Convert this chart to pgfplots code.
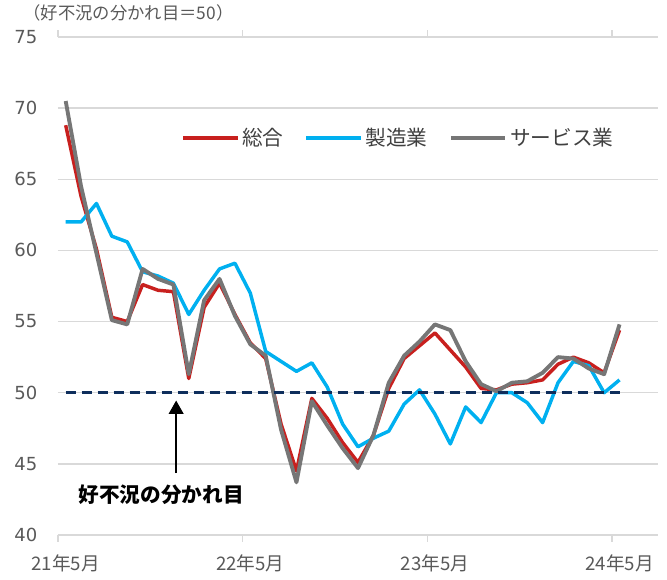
\documentclass[border=0pt]{standalone}
\usepackage{pgfplots}
\pgfplotsset{compat=1.18}
\usepackage{fontspec}
\setmainfont{Noto Sans CJK JP}
\newfontfamily\numfont{DejaVu Sans}
\usetikzlibrary{calc,arrows.meta}
\definecolor{cRed}{HTML}{C8201E}
\definecolor{cBlue}{HTML}{00B0F0}
\definecolor{cGray}{HTML}{767676}
\definecolor{cNavy}{HTML}{0E2E5C}
\definecolor{cGrid}{HTML}{D9D9D9}
\definecolor{cText}{HTML}{595959}
\definecolor{cLeg}{HTML}{404040}
\pgfplotstableread{
i sogo seizo service
0 68.8 62.0 70.5
1 63.8 62.0 64.5
2 60.1 63.3 59.8
3 55.3 61.0 55.1
4 55.0 60.6 54.8
5 57.6 58.5 58.7
6 57.2 58.2 58.0
7 57.1 57.7 57.6
8 51.0 55.5 51.3
9 56.0 57.2 56.5
10 57.7 58.7 58.0
11 55.5 59.1 55.4
12 53.5 57.0 53.4
13 52.4 52.9 52.6
14 47.8 52.2 47.4
15 44.5 51.5 43.7
16 49.6 52.1 49.4
17 48.2 50.4 47.7
18 46.5 47.8 46.1
19 45.1 46.2 44.7
20 47.0 46.8 47.0
21 50.3 47.3 50.7
22 52.4 49.2 52.6
23 53.3 50.2 53.6
24 54.2 48.5 54.8
25 53.0 46.4 54.4
26 51.8 49.0 52.2
27 50.3 47.9 50.6
28 50.2 50.0 50.1
29 50.6 50.0 50.7
30 50.7 49.3 50.8
31 50.9 47.9 51.4
32 52.0 50.7 52.5
33 52.5 52.2 52.4
34 52.1 51.9 51.7
35 51.4 50.0 51.3
36 54.4 50.9 54.8
}\datatable
\begin{document}
\begin{tikzpicture}
\begin{axis}[
  name=ax,
  scale only axis,
  width=450pt, height=373.5pt,
  xmin=-0.5, xmax=38.5,
  ymin=40, ymax=75,
  ytick={40,45,...,75},
  xtick={0,12,24,36},
  xticklabels={21年5月,22年5月,23年5月,24年5月},
  extra x ticks={-0.5,11.5,23.5,35.5},
  extra x tick labels={},
  extra x tick style={grid=none, tick align=outside, major tick length=5pt, tick style={draw=cGrid, line width=1pt}},
  axis line style={draw=none},
  major tick length=0pt,
  ymajorgrids,
  grid style={draw=cGrid, line width=1.1pt},
  /pgf/number format/assume math mode=true,
  yticklabel style={font=\numfont\fontsize{13.5}{16}\selectfont, text=cText, xshift=-12pt},
  xticklabel style={font=\fontsize{14}{16}\selectfont, text=cText, yshift=-11pt},
  clip=false,
  legend columns=3,
  legend style={at={(rel axis cs:0.205,0.797)}, anchor=west, draw=none, fill=none, inner sep=0pt,
    font=\fontsize{15.5}{18}\selectfont, text=cLeg,
    /tikz/every even column/.append style={column sep=14pt}},
  legend cell align=left,
  legend image code/.code={\draw[#1] (0pt,0pt) -- (41pt,0pt);},
]
\addplot[cRed, line width=2.6pt, line join=round] table[x=i, y=sogo] {\datatable};
\addlegendentry{総合}
\addplot[cBlue, line width=2.6pt, line join=round] table[x=i, y=seizo] {\datatable};
\addlegendentry{製造業}
\addplot[cGray, line width=2.9pt, line join=round] table[x=i, y=service] {\datatable};
\addlegendentry{サービス業}
\addplot[cNavy, line width=2.3pt, dash pattern=on 7.5pt off 4.5pt, forget plot] coordinates {(0,50) (36,50)};
\draw[-{Triangle[length=10pt,width=11pt]}, line width=1.3pt, black] (axis cs:7.18,44.35) -- (axis cs:7.18,49.45);
\node[font=\bfseries\fontsize{15.5}{18}\selectfont, text=black] at (axis cs:6.2,42.8) {好不況の分かれ目};
\node[anchor=west, inner sep=0pt, font=\fontsize{13}{15}\selectfont, text=cText] at (rel axis cs:-0.058,1.048) {（好不況の分かれ目＝50）};
\end{axis}
\pgfresetboundingbox
\path[use as bounding box] ($(ax.south west)+(-43.5pt,-33.75pt)$) rectangle ($(ax.north east)+(6.75pt,27.75pt)$);
\end{tikzpicture}
\end{document}
